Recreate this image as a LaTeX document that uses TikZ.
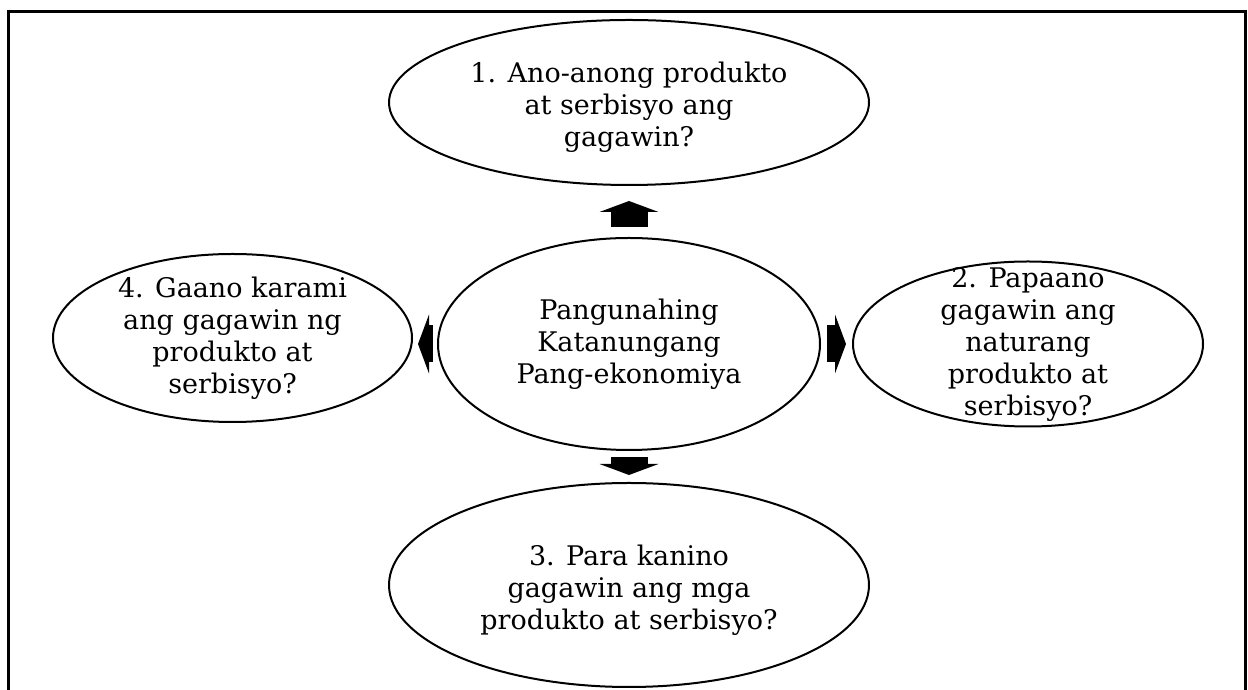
\documentclass[tikz,border=0pt]{standalone}
\usepackage{fontspec}
\setmainfont{DejaVu Serif}
\usetikzlibrary{arrows.meta,positioning,shapes.geometric}

\tikzset{
  oval/.style={draw, ellipse, line width=2pt, inner sep=0pt, outer sep=0pt},
  qtext/.style={align=center, font=\fontsize{27}{32}\selectfont},
  blockarr/.style={line width=37pt, -{Triangle[width=59pt,length=11pt,line width=0pt]}},
}

\begin{document}
\begin{tikzpicture}[x=1pt,y=1pt]
  \useasboundingbox (0,0) rectangle (1248,690);
  \draw[line width=3pt] (8,0) -- (8,678) -- (1245.5,678) -- (1245.5,0);
  \node (kat) [oval, minimum width=382pt, minimum height=212pt,
    label={[qtext]center:{Pangunahing\\Katanungang\\Pang-ekonomiya}}] at (629,346) {};
  \node (ano) [oval, above=53pt of kat, minimum width=480pt, minimum height=165pt,
    label={[qtext, yshift=-5pt]center:{1. Ano-anong produkto\\at serbisyo ang\\gagawin?}}] {};
  \node (paano) [oval, right=33pt of kat, minimum width=350pt, minimum height=165pt,
    label={[qtext]center:{2. Papaano\\gagawin ang\\naturang\\produkto at\\serbisyo?}}] {};
  \node (kanino) [oval, below=33pt of kat, minimum width=480pt, minimum height=204pt,
    label={[qtext, yshift=-5pt]center:{3. Para kanino\\gagawin ang mga\\produkto at serbisyo?}}] {};
  \node (gaano) [oval, left=26pt of kat, yshift=6pt, minimum width=359pt, minimum height=168pt,
    label={[qtext]center:{4. Gaano karami\\ang gagawin ng\\produkto at\\serbisyo?}}] {};
  \draw[blockarr, shorten <=11pt, shorten >=16pt] (kat.north) -- (ano.south);
  \draw[blockarr, shorten <=7pt, shorten >=7pt] (kat.east) -- (paano.west);
  \draw[blockarr, shorten <=7pt, shorten >=8pt] (kat.south) -- (kanino.north);
  \draw[blockarr, shorten <=5pt, shorten >=6pt] (kat.west) -- (kat.west -| gaano.east);
\end{tikzpicture}
\end{document}
